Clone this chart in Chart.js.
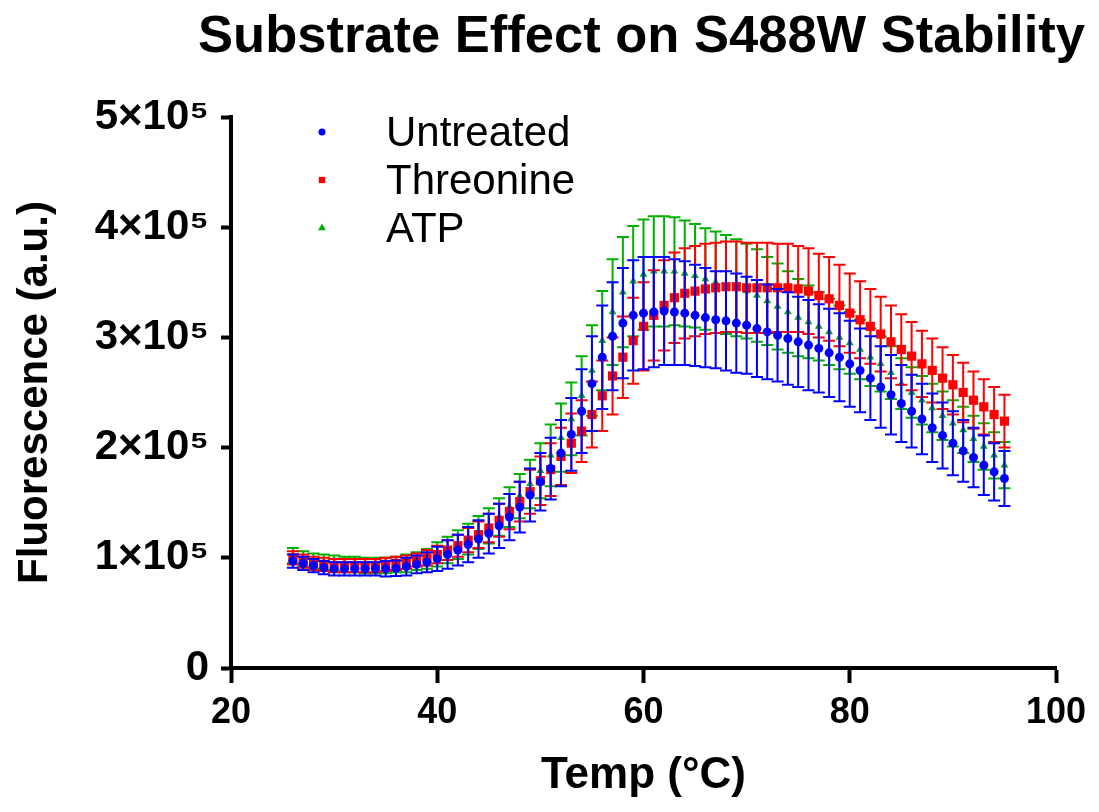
<!DOCTYPE html>
<html>
<head>
<meta charset="utf-8">
<script src="https://cdn.jsdelivr.net/npm/chart.js@4/dist/chart.umd.min.js"></script>
<style>
    html, body { margin: 0; padding: 0; background: #fff; }
    #chart { display: block; }
</style>
</head>
<body>
<canvas id="chart" width="1099" height="812"></canvas>
<script>
/* ── Data (fluorescence in units of 10^5) ── */

const temps = [
    26, 27, 28, 29, 30, 31, 32, 33, 34, 35,
    36, 37, 38, 39, 40, 41, 42, 43, 44, 45,
    46, 47, 48, 49, 50, 51, 52, 53, 54, 55,
    56, 57, 58, 59, 60, 61, 62, 63, 64, 65,
    66, 67, 68, 69, 70, 71, 72, 73, 74, 75,
    76, 77, 78, 79, 80, 81, 82, 83, 84, 85,
    86, 87, 88, 89, 90, 91, 92, 93, 94, 95,
];

const untreatedMean = [
    0.97, 0.95, 0.93, 0.91, 0.90, 0.90, 0.90, 0.90, 0.90, 0.90,
    0.905, 0.92, 0.94, 0.96, 0.99, 1.03, 1.07, 1.12, 1.17, 1.22,
    1.29, 1.37, 1.46, 1.57, 1.69, 1.81, 1.95, 2.12, 2.33, 2.58,
    2.82, 3.01, 3.13, 3.20, 3.22, 3.23, 3.24, 3.23, 3.22, 3.20,
    3.18, 3.16, 3.15, 3.13, 3.11, 3.08, 3.05, 3.02, 2.99, 2.96,
    2.93, 2.90, 2.86, 2.82, 2.76, 2.70, 2.63, 2.55, 2.48, 2.40,
    2.33, 2.26, 2.18, 2.11, 2.04, 1.97, 1.91, 1.84, 1.78, 1.72,
];
const untreatedSd = [
    0.06, 0.06, 0.06, 0.06, 0.06, 0.06, 0.06, 0.06, 0.06, 0.07,
    0.07, 0.08, 0.08, 0.09, 0.11, 0.13, 0.14, 0.16, 0.17, 0.18,
    0.20, 0.21, 0.23, 0.24, 0.26, 0.28, 0.30, 0.33, 0.38, 0.43,
    0.47, 0.49, 0.50, 0.50, 0.51, 0.50, 0.49, 0.48, 0.47, 0.46,
    0.45, 0.44, 0.45, 0.45, 0.44, 0.44, 0.43, 0.42, 0.42, 0.41,
    0.41, 0.40, 0.40, 0.40, 0.39, 0.38, 0.38, 0.37, 0.36, 0.35,
    0.33, 0.32, 0.31, 0.30, 0.29, 0.28, 0.27, 0.27, 0.26, 0.25,
];

const threonineMean = [
    1.00, 0.97, 0.95, 0.94, 0.93, 0.93, 0.93, 0.93, 0.93, 0.94,
    0.95, 0.96, 0.98, 1.00, 1.03, 1.07, 1.11, 1.16, 1.21, 1.27,
    1.34, 1.42, 1.51, 1.60, 1.70, 1.80, 1.92, 2.04, 2.15, 2.30,
    2.47, 2.65, 2.82, 2.97, 3.10, 3.20, 3.29, 3.36, 3.40, 3.42,
    3.44, 3.45, 3.46, 3.46, 3.45, 3.45, 3.45, 3.45, 3.45, 3.44,
    3.42, 3.38, 3.35, 3.29, 3.22, 3.16, 3.10, 3.03, 2.96, 2.89,
    2.83, 2.76, 2.70, 2.63, 2.57, 2.50, 2.43, 2.37, 2.30, 2.24,
];
const threonineSd = [
    0.06, 0.06, 0.06, 0.06, 0.06, 0.06, 0.06, 0.06, 0.06, 0.06,
    0.06, 0.06, 0.06, 0.07, 0.08, 0.09, 0.10, 0.11, 0.12, 0.13,
    0.15, 0.16, 0.18, 0.20, 0.22, 0.24, 0.26, 0.27, 0.28, 0.30,
    0.32, 0.35, 0.37, 0.39, 0.40, 0.41, 0.41, 0.41, 0.41, 0.41,
    0.41, 0.41, 0.41, 0.41, 0.41, 0.41, 0.41, 0.40, 0.40, 0.39,
    0.39, 0.38, 0.38, 0.37, 0.36, 0.35, 0.34, 0.34, 0.33, 0.32,
    0.31, 0.30, 0.29, 0.28, 0.27, 0.27, 0.26, 0.25, 0.25, 0.24,
];

const atpMean = [
    1.02, 0.99, 0.97, 0.96, 0.95, 0.94, 0.94, 0.93, 0.93, 0.93,
    0.94, 0.95, 0.97, 0.99, 1.03, 1.07, 1.12, 1.17, 1.23, 1.29,
    1.37, 1.46, 1.56, 1.67, 1.79, 1.93, 2.09, 2.26, 2.47, 2.70,
    2.97, 3.23, 3.41, 3.51, 3.57, 3.60, 3.60, 3.60, 3.58, 3.56,
    3.53, 3.50, 3.48, 3.45, 3.42, 3.38, 3.33, 3.28, 3.23, 3.18,
    3.14, 3.10, 3.05, 3.00, 2.95, 2.89, 2.82, 2.76, 2.68, 2.58,
    2.50, 2.43, 2.36, 2.29, 2.22, 2.16, 2.08, 2.01, 1.93, 1.84,
];
const atpSd = [
    0.07, 0.07, 0.07, 0.07, 0.07, 0.07, 0.07, 0.07, 0.07, 0.07,
    0.07, 0.08, 0.08, 0.09, 0.11, 0.12, 0.13, 0.14, 0.15, 0.16,
    0.17, 0.18, 0.20, 0.22, 0.25, 0.28, 0.31, 0.33, 0.36, 0.41,
    0.45, 0.48, 0.50, 0.50, 0.50, 0.50, 0.50, 0.49, 0.48, 0.47,
    0.46, 0.46, 0.45, 0.44, 0.43, 0.42, 0.40, 0.39, 0.37, 0.35,
    0.33, 0.31, 0.30, 0.29, 0.28, 0.27, 0.26, 0.25, 0.24, 0.23,
    0.23, 0.22, 0.22, 0.22, 0.21, 0.21, 0.21, 0.21, 0.21, 0.21,
];

const yTicks = [0, 1, 2, 3, 4, 5];

/* ── Styling ── */

const FONT   = '"Liberation Sans", Arial, Helvetica, sans-serif';
const BLUE   = '#0000ff';
const RED    = '#ff0000';
const GREEN  = '#00b000';
const TITLE  = 'Substrate Effect on S488W Stability';

function makeSeries(label, means, sds, color, style, radius) {
    return {
        label,
        data:             temps.map((t, i) => ({ x: t, y: means[i] })),
        errors:           sds,
        showLine:         false,
        borderColor:      color,
        backgroundColor:  color,
        pointStyle:       style,
        pointRadius:      radius,
        pointBorderWidth: 0,
        legendRadius:     style === 'circle' ? 3.5 : 4.5,
    };
}

// Vertical error bars with caps, drawn under each dataset's own markers
const errorBars = {
    id: 'errorBars',
    beforeDatasetDraw(chart, args) {
        const ds  = chart.data.datasets[args.index];
        const ctx = chart.ctx;
        const xs  = chart.scales.x;
        const ys  = chart.scales.y;
        const cap = 6;
        ctx.save();
        ctx.strokeStyle = ds.borderColor;
        ctx.lineWidth   = 2;
        ds.data.forEach((p, i) => {
            const px  = xs.getPixelForValue(p.x);
            const top = ys.getPixelForValue(p.y + ds.errors[i]);
            const bot = ys.getPixelForValue(p.y - ds.errors[i]);
            ctx.beginPath();
            ctx.moveTo(px, top);       ctx.lineTo(px, bot);
            ctx.moveTo(px - cap, top); ctx.lineTo(px + cap, top);
            ctx.moveTo(px - cap, bot); ctx.lineTo(px + cap, bot);
            ctx.stroke();
        });
        ctx.restore();
    },
};

// Title centred over the plot area rather than the whole canvas (Prism layout)
const plotTitle = {
    id: 'plotTitle',
    afterDraw(chart) {
        const ctx = chart.ctx;
        const { left, right } = chart.chartArea;
        ctx.save();
        ctx.font         = `bold 52.5px ${FONT}`;
        ctx.fillStyle    = '#000';
        ctx.textAlign    = 'center';
        ctx.textBaseline = 'middle';
        ctx.fillText(TITLE, (left + right) / 2 - 2, 38);
        ctx.restore();
    },
};

// Prism-style legend: small marker, then label, stacked top-left in the plot
const floatingLegend = {
    id: 'floatingLegend',
    afterDraw(chart) {
        const ctx = chart.ctx;
        const x0  = chart.chartArea.left + 91;
        const y0  = chart.chartArea.top + 15;
        ctx.save();
        ctx.font         = `42px ${FONT}`;
        ctx.textBaseline = 'middle';
        chart.data.datasets.forEach((ds, i) => {
            const y = y0 + i * 48;
            ctx.fillStyle = ds.backgroundColor;
            Chart.helpers.drawPoint(ctx, {
                pointStyle: ds.pointStyle, radius: ds.legendRadius, borderWidth: 0,
            }, x0, y);
            ctx.fillStyle = '#000';
            ctx.fillText(ds.label, x0 + 64, y + 2);
        });
        ctx.restore();
    },
};

new Chart(document.getElementById('chart'), {
    type: 'scatter',
    data: {
        datasets: [
            makeSeries('Untreated', untreatedMean, untreatedSd, BLUE,  'circle',   4.5),
            makeSeries('Threonine', threonineMean, threonineSd, RED,   'rect',     6.5),
            makeSeries('ATP',       atpMean,       atpSd,       GREEN, 'triangle', 4.5),
        ],
    },
    plugins: [errorBars, plotTitle, floatingLegend],
    options: {
        responsive: false,
        animation:  false,
        layout: { padding: { left: 0, right: 43, top: 117, bottom: 0 } },
        plugins: {
            legend:  { display: false },
            tooltip: { enabled: false },
            title:   { display: false },
        },
        scales: {
            x: {
                type: 'linear',
                min:  20,
                max:  100,
                ticks: {
                    stepSize:    20,
                    maxRotation: 0,
                    color:       '#000',
                    padding:     8,
                    font:        { family: FONT, size: 36, weight: 'bold' },
                },
                grid:   { drawOnChartArea: false, tickLength: 15, tickWidth: 4, tickColor: '#000' },
                border: { color: '#000', width: 4 },
                title: {
                    display: true,
                    text:    'Temp (°C)',
                    color:   '#000',
                    font:    { family: FONT, size: 44, weight: 'bold' },
                    padding: { top: 0, bottom: 10 },
                },
                afterFit: s => { s.height = 144; },
            },
            y: {
                min: 0,
                max: 5,
                afterBuildTicks: s => { s.ticks = yTicks.map(v => ({ value: v })); },
                ticks: {
                    color:    '#000',
                    padding:  12,
                    font:     { family: FONT, size: 42, weight: 'bold' },
                    callback: v => v === 0 ? '0' : `${v}×10⁵`,
                },
                grid:   { drawOnChartArea: false, tickLength: 10, tickWidth: 4, tickColor: '#000' },
                border: { color: '#000', width: 4 },
                title: {
                    display: true,
                    text:    'Fluorescence (a.u.)',
                    color:   '#000',
                    font:    { family: FONT, size: 42, weight: 'bold' },
                    padding: { top: 10, bottom: 0 },
                },
                afterFit: s => { s.width = 231; },
            },
        },
    },
});
</script>
</body>
</html>
